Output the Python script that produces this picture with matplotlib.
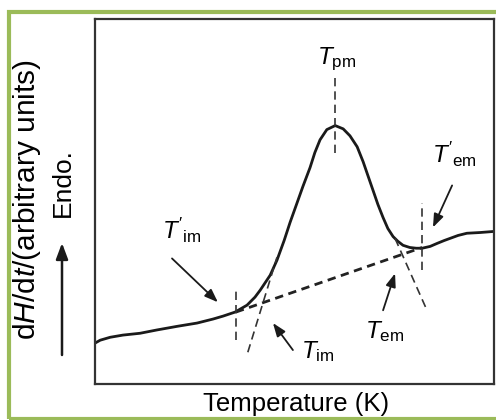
import matplotlib
matplotlib.use("Agg")
import matplotlib.pyplot as plt
from matplotlib.patches import Rectangle, FancyArrowPatch

plt.rcParams['font.family'] = ['Liberation Sans', 'DejaVu Sans']
plt.rcParams['mathtext.fontset'] = 'custom'
plt.rcParams['mathtext.rm'] = 'Liberation Sans'
plt.rcParams['mathtext.it'] = 'Liberation Sans:italic'

# DSC trace (arbitrary units)
temp = [0, 1.3, 3.8, 7.0, 11.3, 15.5, 20.6, 25.6, 29.6, 32.1, 35.1, 38.1, 40.1,
        41.4, 43.9, 45.6, 47.4, 48.9, 50.6, 52.1, 53.9, 55.1, 56.4, 58.1, 60.2,
        62.2, 63.9, 65.7, 67.2, 68.4, 69.7, 70.9, 72.2, 73.4, 74.7, 75.9, 77.2,
        78.9, 80.5, 82.0, 84.0, 85.7, 87.5, 89.0, 91.0, 93.2, 96.5, 100]
heat = [11.2, 12.0, 12.8, 13.4, 13.9, 14.8, 15.8, 16.7, 17.8, 18.6, 19.7, 21.6, 23.8,
        25.7, 29.8, 33.9, 39.3, 44.3, 49.5, 54.1, 59.3, 63.4, 66.9, 69.7, 70.8,
        69.9, 68.0, 65.0, 60.9, 57.1, 53.0, 49.2, 45.6, 42.6, 40.4, 39.1, 38.0,
        37.4, 37.2, 37.2, 37.7, 38.5, 39.3, 39.9, 40.7, 41.3, 41.5, 41.8]

# construction lines
base_x = [35.3, 82.0]
base_y = [19.7, 37.4]
tan_left_x = [38.3, 45.6]
tan_left_y = [8.7, 34.7]
tan_right_x = [75.2, 83.2]
tan_right_y = [39.9, 20.2]

# vertical markers: x, ymin, ymax
vlines = [(60.2, 63.4, 83.9), (35.3, 12.0, 26.2), (82.0, 31.1, 49.5)]

# labels: text, text pos, arrow tail, arrow head
labels = [
    (r"$T'_{\mathrm{im}}$", (21.8, 42.1), (19.3, 34.4), (30.8, 22.4)),
    (r"$T_{\mathrm{im}}$", (55.9, 9.0), (49.6, 9.3), (44.6, 16.7)),
    (r"$T_{\mathrm{em}}$", (72.7, 14.5), (72.2, 20.2), (75.2, 30.3)),
    (r"$T'_{\mathrm{em}}$", (90.2, 62.8), (89.5, 54.4), (84.7, 42.9)),
]

fig = plt.figure(figsize=(4.96, 4.20), dpi=100)
fig.patches.append(Rectangle((9 / 496, 1 / 420), 520 / 496, 407 / 420, transform=fig.transFigure,
                             fill=False, edgecolor='#9bbb59', linewidth=3.0))

ax = fig.add_axes([95 / 496, 36 / 420, 399 / 496, 365 / 420])
ax.plot(temp, heat, color='#1a1a1a', linewidth=2.0, solid_joinstyle='round')
ax.plot(base_x, base_y, color='#222222', linewidth=2.0, linestyle=(0, (3, 2)))
ax.plot(tan_left_x, tan_left_y, color='#333333', linewidth=1.2, linestyle=(0, (5, 3)))
ax.plot(tan_right_x, tan_right_y, color='#333333', linewidth=1.2, linestyle=(0, (5, 3)))
for x, y0, y1 in vlines:
    ax.plot([x, x], [y0, y1], color='#333333', linewidth=1.2, linestyle=(0, (5, 3)))

ax.text(60.5, 89.0, r"$T_{\mathrm{pm}}$", fontsize=17.5, ha='center', va='center')
for txt, pos, tail, head in labels:
    ax.text(pos[0], pos[1], txt, fontsize=17.5, ha='center', va='center')
    ax.annotate("", xy=head, xytext=tail,
                arrowprops=dict(arrowstyle='-|>,head_length=0.8,head_width=0.3',
                                color='#1a1a1a', lw=1.3, shrinkA=0, shrinkB=0))

ax.set_xlim(0, 100)
ax.set_ylim(0, 100)
ax.set_xticks([])
ax.set_yticks([])
for s in ax.spines.values():
    s.set_linewidth(1.6)
    s.set_color('#333333')

fig.text(296 / 496, 1 - 404 / 420, "Temperature (K)", fontsize=18.5, ha='center', va='center')
fig.text(27 / 496, 1 - 200 / 420, r"d$H$/d$t$/(arbitrary units)", fontsize=21.5,
         rotation=90, ha='center', va='center')
fig.text(63 / 496, 1 - 183 / 420, "Endo.", fontsize=19, rotation=90, ha='center', va='center')
fig.add_artist(FancyArrowPatch(
    (62 / 496, 1 - 355 / 420), (62 / 496, 1 - 243 / 420), transform=fig.transFigure,
    arrowstyle='-|>,head_length=0.8,head_width=0.3', mutation_scale=12, color='#1a1a1a',
    lw=1.8, shrinkA=0, shrinkB=0))

fig.savefig("out.png", dpi=100)
